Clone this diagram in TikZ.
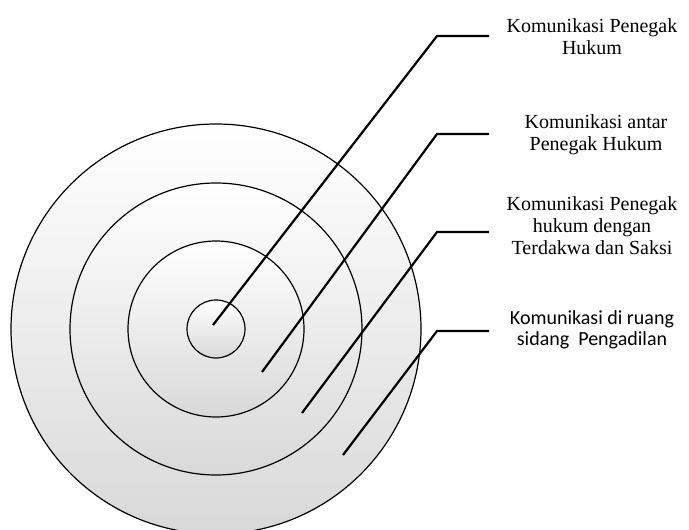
\documentclass[tikz,border=0pt]{standalone}
\usepackage{fontspec}
\setmainfont{Liberation Serif}
\newfontfamily\libserif{Liberation Serif}
\newfontfamily\carlito{Carlito}
\usepackage{tikz}
\usetikzlibrary{positioning}

\tikzset{
  ring/.style={draw, line width=0.6pt, top color=white, middle color=white, bottom color=black!15},
  leader/.style={line width=1.1pt, line join=miter},
  lbl/.style={align=center, inner sep=0pt, font=\libserif\fontsize{10}{11}\selectfont}
}

\begin{document}
\begin{tikzpicture}[x=0.5pt,y=-0.5pt]
		% Page frame
		\useasboundingbox (0,0) rectangle (689,529);
		\clip (0,0) rectangle (689,529);

		\coordinate (c) at (216,329);

		% Concentric rings, outer first
		\foreach \r in {205, 146, 88, 29} {
				\draw[ring] (c) circle (\r);
			}

		% Labels
		\node[lbl] (l1) at (592,37) {Komunikasi Penegak\\Hukum};
		\node[lbl] (l2) at (596,135) {Komunikasi antar\\Penegak Hukum};
		\node[lbl] (l3) at (592,226) {Komunikasi Penegak\\hukum dengan\\Terdakwa dan Saksi};
		\node[lbl, font=\carlito\fontsize{10}{10.5}\selectfont] (l4) at (592,330) {Komunikasi di ruang\\sidang~ Pengadilan};

		% Leader lines from the rings to the labels
		\foreach \i/\sx/\sy/\by in {1/213/325/36, 2/262/372/134, 3/302/413/232, 4/343/455/331} {
				\coordinate (s\i) at (\sx,\sy);
				\coordinate (b\i) at (437,\by);
				\coordinate (e\i) at (489,\by);
				\draw[leader] (s\i) -- (b\i) -- (e\i);
			}
	\end{tikzpicture}
\end{document}
